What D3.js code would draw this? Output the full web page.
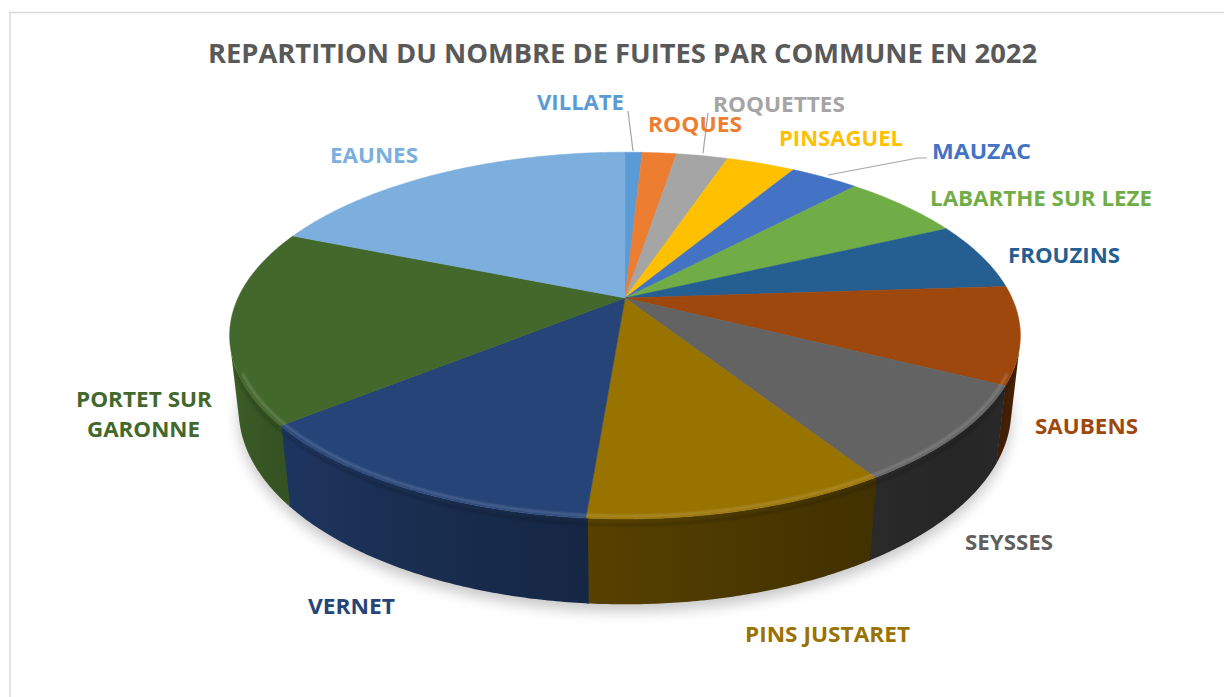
<!DOCTYPE html>
<html>
<head>
<meta charset="utf-8">
<script src="https://cdn.jsdelivr.net/npm/d3@7"></script>
<style>
  html, body { margin: 0; padding: 0; background: #fff; }
  svg { display: block; }
  text { font-family: "Open Sans", "Noto Sans", sans-serif; font-weight: bold; }
</style>
</head>
<body>
<svg id="chart" width="1224" height="697"></svg>
<script>
// Number of leaks per commune in 2022 (clockwise from 12 o'clock)
const communes = ["VILLATE", "ROQUES", "ROQUETTES", "PINSAGUEL", "MAUZAC",
  "LABARTHE SUR LEZE", "FROUZINS", "SAUBENS", "SEYSSES", "PINS JUSTARET",
  "VERNET", "PORTET SUR GARONNE", "EAUNES"];
const fuites = [1, 2, 3, 4, 4, 7, 7, 10, 10, 12, 15, 20, 22];
const sliceColors = ["#5B9BD5", "#ED7D31", "#A5A5A5", "#FFC000", "#4472C4",
  "#70AD47", "#255E91", "#9E480E", "#636363", "#997300",
  "#264478", "#43682B", "#7CAFDD"];
const titleText = "REPARTITION DU NOMBRE DE FUITES PAR COMMUNE EN 2022";

// Label placement: left x, baseline y, rendered width (multi-line labels use lines)
const labelLayout = {
  "VILLATE":            { lines: [[537, 110, 87]] },
  "ROQUES":             { lines: [[648, 132, 94]] },
  "ROQUETTES":          { lines: [[713, 112, 132]], color: "#A5A5A5" },
  "PINSAGUEL":          { lines: [[779, 146, 124]] },
  "MAUZAC":             { lines: [[932, 159, 99]] },
  "LABARTHE SUR LEZE":  { lines: [[930, 206, 222]] },
  "FROUZINS":           { lines: [[1008, 263, 112]] },
  "SAUBENS":            { lines: [[1035, 434, 103]] },
  "SEYSSES":            { lines: [[965, 550, 88]], color: "#5f5f5f" },
  "PINS JUSTARET":      { lines: [[745, 642, 165]] },
  "VERNET":             { lines: [[308, 614, 87]] },
  "PORTET SUR GARONNE": { lines: [[76, 407, 136], [87, 437, 113]], split: ["PORTET SUR", "GARONNE"] },
  "EAUNES":             { lines: [[330, 163, 88]] }
};
// Leader lines for the small slices
const leaders = [
  [[628, 111], [633, 151]],
  [[708, 113], [703, 153]],
  [[927, 158], [918, 158], [828, 175]]
];

const svg = d3.select("#chart");
const W = 1224, H = 697;

// Chart area frame
svg.append("rect").attr("x", 10).attr("y", 12.5).attr("width", W + 20).attr("height", H + 20)
  .attr("fill", "#fff").attr("stroke", "#d9d9d9").attr("stroke-width", 1.5);

// Title
svg.append("text").attr("x", 208).attr("y", 63)
  .attr("font-size", 26).attr("fill", "#595959")
  .attr("textLength", 829).attr("lengthAdjust", "spacingAndGlyphs")
  .text(titleText);

// 3D perspective camera for the pie disc
const cam = { cx: 625, cy: 298, scale: 387, tilt: 27.0 * Math.PI / 180, dist: 4.35, thick: 0.217 };
const focal = cam.scale * cam.dist;
function project(theta, h, r = 1) {
  const u = r * Math.sin(theta), v = r * Math.cos(theta);
  const z = cam.dist + v * Math.cos(cam.tilt) - h * Math.sin(cam.tilt);
  const y = v * Math.sin(cam.tilt) + h * Math.cos(cam.tilt);
  return [cam.cx + focal * u / z, cam.cy - focal * y / z];
}
function arcPoints(a0, a1, h, r = 1) {
  const n = Math.max(2, Math.ceil((a1 - a0) / (Math.PI / 360)));
  return d3.range(n + 1).map(i => project(a0 + (a1 - a0) * i / n, h, r));
}

const pie = d3.pie().sort(null).value(d => d.value).startAngle(0).endAngle(2 * Math.PI);
const arcs = pie(communes.map((c, i) => ({ name: c, value: fuites[i], color: sliceColors[i] })));

const defs = svg.append("defs");
defs.append("filter").attr("id", "shadowBlur").attr("x", "-20%").attr("y", "-20%")
  .attr("width", "140%").attr("height", "140%")
  .append("feGaussianBlur").attr("stdDeviation", 7);
defs.append("filter").attr("id", "rimBlur")
  .append("feGaussianBlur").attr("stdDeviation", 1.3);

const line = d3.line();

// Soft shadow under the disc
svg.append("path")
  .attr("d", line(arcPoints(0, 2 * Math.PI, -cam.thick)) + "Z")
  .attr("transform", "translate(0,7)")
  .attr("fill", "#000").attr("opacity", 0.22)
  .attr("filter", "url(#shadowBlur)");

// Visible range of the outer wall
const visCos = -1 / (cam.dist * Math.cos(cam.tilt));
const vis0 = Math.acos(visCos), vis1 = 2 * Math.PI - vis0;

function wallShade(theta) {
  const deg = theta * 180 / Math.PI;
  const t = Math.min(1, Math.max(0, (deg - 130) / 125));
  const s = Math.min(1, Math.max(0, (130 - deg) / 25));
  return 0.38 + 0.55 * Math.pow(t, 1.3) + 0.08 * s;
}

// Outer walls, shaded with a horizontal gradient that follows the light
const wallG = svg.append("g");
const overlap = 0.004;
arcs.forEach((a, idx) => {
  const a0 = Math.max(a.startAngle - overlap, vis0), a1 = Math.min(a.endAngle, vis1);
  if (a1 <= a0) return;
  const base = d3.color(a.data.color);
  const xa = project(a0, 0)[0], xb = project(a1, 0)[0];
  const grad = defs.append("linearGradient").attr("id", "wall" + idx)
    .attr("gradientUnits", "userSpaceOnUse")
    .attr("x1", xa).attr("x2", xb).attr("y1", 0).attr("y2", 0);
  const ns = 12;
  for (let i = 0; i <= ns; i++) {
    const t = a0 + (a1 - a0) * i / ns;
    const x = project(t, 0)[0];
    const k = wallShade(t);
    grad.append("stop")
      .attr("offset", Math.min(1, Math.max(0, (x - xa) / (xb - xa))))
      .attr("stop-color", d3.rgb(base.r * k, base.g * k, base.b * k).formatHex());
  }
  const pts = arcPoints(a0, a1, 0).concat(arcPoints(a0, a1, -cam.thick).reverse());
  wallG.append("path").attr("d", line(pts) + "Z")
    .attr("fill", `url(#wall${idx})`);
});

// Top faces
const topG = svg.append("g");
arcs.forEach(a => {
  const pts = [project(0, 0, 0)].concat(arcPoints(a.startAngle, a.endAngle, 0));
  topG.append("path").attr("d", line(pts) + "Z")
    .attr("fill", a.data.color).attr("stroke", a.data.color).attr("stroke-width", 0.5)
    .attr("stroke-linejoin", "round");
});

// Bevel along the front rim: light edge on the top, dark lip on the wall
svg.append("path")
  .attr("d", line(arcPoints(vis0 + 0.15, vis1 - 0.15, 0, 0.99)))
  .attr("fill", "none").attr("stroke", "#fff").attr("stroke-width", 2.5)
  .attr("opacity", 0.18).attr("filter", "url(#rimBlur)");
svg.append("path")
  .attr("d", line(arcPoints(vis0 + 0.1, vis1 - 0.1, -0.015, 1)))
  .attr("fill", "none").attr("stroke", "#000").attr("stroke-width", 3)
  .attr("opacity", 0.15).attr("filter", "url(#rimBlur)");

// Leader lines
svg.append("g").selectAll("path").data(leaders).join("path")
  .attr("d", d => line(d)).attr("fill", "none")
  .attr("stroke", "#a6a6a6").attr("stroke-width", 1.2);

// Category labels
const labelG = svg.append("g");
arcs.forEach(a => {
  const lay = labelLayout[a.data.name];
  const texts = lay.split || [a.data.name];
  lay.lines.forEach((ln, i) => {
    labelG.append("text")
      .attr("x", ln[0]).attr("y", ln[1])
      .attr("font-size", 21.5)
      .attr("fill", lay.color || a.data.color)
      .attr("textLength", ln[2]).attr("lengthAdjust", "spacingAndGlyphs")
      .text(texts[i]);
  });
});
</script>
</body>
</html>
